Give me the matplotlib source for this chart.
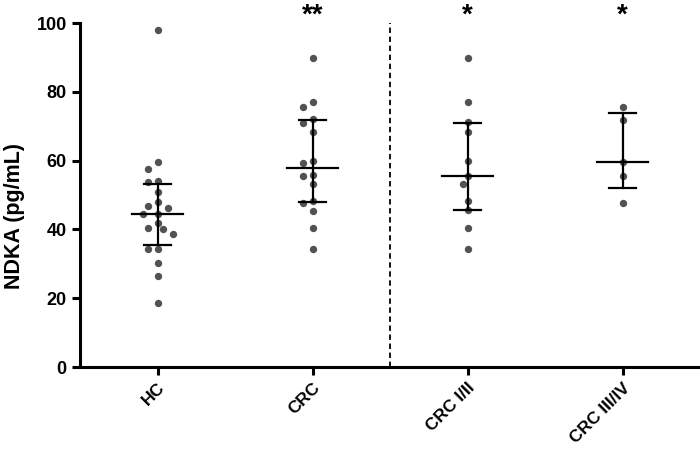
import numpy as np
import matplotlib.pyplot as plt

plt.rcParams['font.family'] = ['Liberation Sans', 'DejaVu Sans']
plt.rcParams['font.weight'] = 'bold'

groups = ['HC', 'CRC', 'CRC I/II', 'CRC III/IV']
hc = [98.0, 59.5, 57.7, 53.8, 54.1, 50.8, 47.9, 46.8, 46.1, 44.5,
      44.5, 42.0, 40.4, 40.0, 38.8, 34.4, 34.2, 30.1, 26.5, 18.6]
crc = [89.8, 76.9, 75.6, 72.0, 70.8, 68.2, 59.4, 59.8, 55.5, 55.7,
       53.2, 48.4, 47.8, 45.4, 40.4, 34.4]
crc_12 = [89.8, 76.9, 71.1, 68.3, 59.8, 55.5, 53.2, 48.3, 45.5, 40.4, 34.4]
crc_34 = [75.6, 71.8, 59.5, 55.6, 47.7]
medians = [44.5, 57.8, 55.5, 59.5]
q_low = [35.4, 47.9, 45.5, 51.9]
q_high = [53.1, 71.8, 71.0, 73.9]
stars = ['', '**', '*', '*']

data = [hc, crc, crc_12, crc_34]

fig = plt.figure(figsize=(7, 4.54), dpi=100)
ax = fig.add_axes([80 / 700, 87 / 454, 620 / 700, 344 / 454])
ax.set_xlim(-0.5, 3.5)
ax.set_ylim(0, 100)

# pixels per data unit, used for a simple swarm layout
px_x = 620 / 4.0
px_y = 344 / 100.0
step = 5.0 / px_x


def swarm(vals, dmin=8.0):
    order = np.argsort(vals)[::-1]
    placed = []
    offs = np.zeros(len(vals))
    for i in order:
        v = vals[i]
        k = 0
        while True:
            cands = [0.0] if k == 0 else [-k * step, k * step]
            ok = None
            for c in cands:
                good = True
                for (pv, po) in placed:
                    dx = (c - po) * px_x
                    dy = (v - pv) * px_y
                    if dx * dx + dy * dy < dmin * dmin:
                        good = False
                        break
                if good:
                    ok = c
                    break
            if ok is not None:
                offs[i] = ok
                placed.append((v, ok))
                break
            k += 1
    return offs


for i, vals in enumerate(data):
    vals = np.array(vals)
    offs = swarm(vals)
    ax.plot(i + offs, vals, 'o', color='#525252', markersize=5.3,
            markeredgewidth=0, zorder=2)
    ax.plot([i - 0.165, i + 0.165], [medians[i]] * 2, color='black', lw=1.6, zorder=3)
    ax.plot([i, i], [q_low[i], q_high[i]], color='black', lw=1.6, zorder=3)
    for q in (q_low[i], q_high[i]):
        ax.plot([i - 0.085, i + 0.085], [q, q], color='black', lw=1.6, zorder=3)
    if stars[i]:
        ax.text(i, 102, stars[i], ha='center', va='center', fontsize=20,
                fontweight='bold', clip_on=False)

ax.plot([1.5, 1.5], [0, 100], color='black', lw=1.3, ls=(0, (3, 2)), zorder=1)

ax.spines['top'].set_visible(False)
ax.spines['right'].set_visible(False)
ax.spines['left'].set_linewidth(2.2)
ax.spines['bottom'].set_linewidth(2.2)
ax.tick_params(width=2.2, length=6, labelsize=13)
ax.set_yticks([0, 20, 40, 60, 80, 100])
ax.set_xticks(range(4))
ax.set_xticklabels(groups, rotation=45, ha='right', rotation_mode='anchor',
                   fontweight='bold', fontsize=12.5)
ax.set_ylabel('NDKA (pg/mL)', fontsize=15.5, fontweight='bold')
ax.yaxis.set_label_coords(-0.088, 0.44)

fig.savefig('out.png', dpi=100)
